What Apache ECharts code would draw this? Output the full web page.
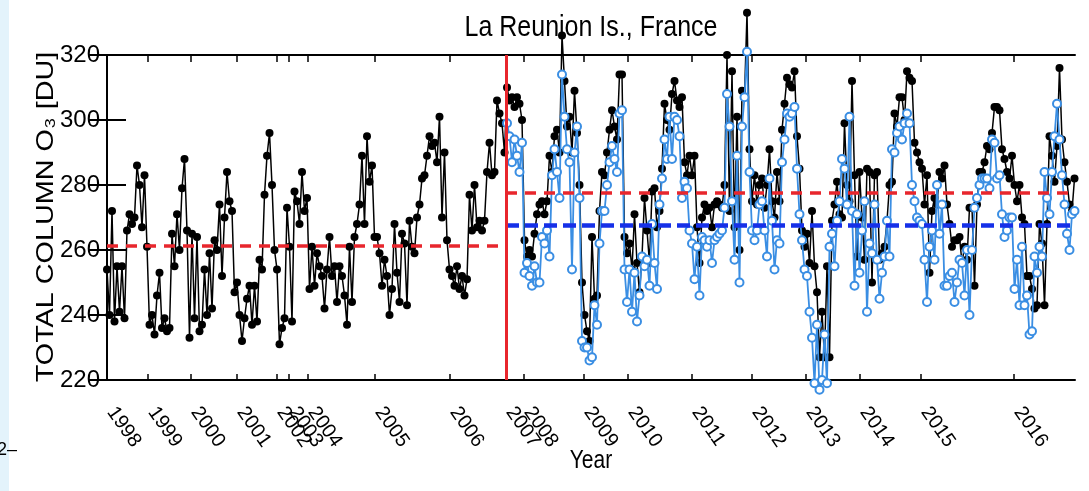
<!DOCTYPE html>
<html>
<head>
<meta charset="utf-8">
<title>La Reunion Is., France</title>
<script src="https://cdn.jsdelivr.net/npm/echarts@6/dist/echarts.min.js"></script>
<style>
  html, body { margin: 0; padding: 0; background: #fff; }
  #chart { width: 1089px; height: 491px; }
</style>
</head>
<body>
<div id="chart"></div>
<script>
// sample index along the x axis, year marks sit at irregular sample positions
const yearTicks = [0, 16.4, 33.6, 52, 68, 72.8, 80.4, 107.2, 137.2, 159.6, 166.8,
  190.8, 208.4, 234, 258, 279.6, 301.2, 325.6, 362.8];
const yearLabels = ['1998', '1999', '2000', '2001', '2002', '2003', '2004', '2005', '2006',
  '2007', '2008', '2009', '2010', '2011', '2012', '2013', '2014', '2015', '2016'];

// total column O3 [DU], black = full record
const blackO3 = [
  254, 240, 272, 238, 255, 241, 255, 239, 266, 271,
  268, 270, 286, 280, 267, 283, 261, 237, 240, 234,
  246, 253, 236, 239, 235, 236, 265, 255, 271, 260,
  279, 288, 266, 233, 265, 239, 264, 235, 237, 254,
  240, 259, 242, 263, 260, 274, 252, 270, 284, 275,
  272, 247, 250, 240, 232, 239, 245, 249, 237, 249,
  238, 257, 254, 277, 289, 296, 280, 260, 254, 231,
  236, 239, 273, 261, 238, 278, 275, 268, 284, 272,
  276, 248, 261, 249, 259, 255, 252, 242, 254, 264,
  252, 255, 244, 255, 252, 246, 237, 261, 244, 264,
  268, 274, 289, 268, 295, 281, 286, 264, 264, 259,
  249, 257, 252, 240, 248, 268, 253, 244, 265, 262,
  243, 269, 261, 259, 270, 274, 282, 283, 289, 295,
  292, 293, 287, 301, 270, 290, 263, 254, 252, 249,
  255, 248, 252, 246, 251, 277, 266, 280, 267, 269,
  266, 269, 284, 293, 283, 284, 306, 302, 299, 290,
  310, 306, 307, 304, 307, 305, 300, 263, 258, 260,
  258, 265, 271, 274, 275, 271, 275, 289, 284, 295,
  297, 290, 326, 312, 298, 301, 290, 309, 296, 280,
  250, 240, 235, 232, 264, 245, 246, 272, 284, 283,
  290, 297, 303, 298, 294, 314, 314, 264, 259, 262,
  254, 271, 256, 247, 258, 276, 266, 256, 278, 279,
  267, 272, 285, 305, 300, 297, 308, 312, 306, 304,
  307, 287, 283, 289, 283, 289, 267, 256, 270, 274,
  272, 273, 267, 274, 275, 274, 273, 280, 320, 272,
  315, 267, 301, 260, 309, 307, 333, 291, 275, 283,
  274, 280, 282, 273, 280, 291, 275, 270, 284, 275,
  297, 305, 313, 311, 310, 315, 295, 285, 266, 261,
  265, 256, 272, 255, 247, 227, 241, 227, 255, 227,
  269, 274, 281, 271, 270, 299, 280, 275, 312, 283,
  258, 284, 270, 257, 285, 284, 250, 283, 284, 257,
  259, 261, 269, 280, 281, 302, 298, 307, 307, 300,
  315, 313, 312, 293, 290, 287, 285, 274, 283, 253,
  272, 276, 274, 284, 282, 286, 274, 268, 261, 263,
  263, 264, 256, 261, 257, 273, 273, 249, 274, 284,
  284, 287, 292, 291, 296, 304, 304, 303, 291, 288,
  284, 282, 289, 280, 275, 280, 270, 268, 252, 252,
  248, 242, 243, 268, 262, 243, 268, 295, 289, 281,
  292, 316, 294, 287, 281, 274, 272, 282
];

// blue = second record, starts at sample blueStart
const blueStart = 160;
const blueO3 = [
  299, 295, 287, 294, 289, 284, 293, 253, 256, 252,
  249, 255, 250, 250, 264, 262, 266, 258, 283, 291,
  284, 276, 314, 301, 291, 287, 254, 290, 298, 276,
  232, 230, 230, 226, 227, 243, 237, 262, 272, 272,
  280, 287, 292, 288, 284, 302, 303, 254, 244, 254,
  241, 253, 238, 246, 258, 255, 257, 249, 268, 256,
  248, 274, 282, 294, 288, 301, 288, 301, 300, 295,
  276, 281, 279, 266, 262, 251, 261, 246, 264, 263,
  261, 263, 256, 263, 264, 265, 266, 273, 308, 298,
  275, 257, 289, 250, 298, 307, 321, 284, 266, 263,
  266, 274, 275, 266, 258, 282, 269, 254, 263, 262,
  287, 294, 302, 301, 302, 304, 285, 271, 263, 254,
  252, 241, 233, 219, 237, 217, 220, 234, 219, 261,
  265, 255, 269, 275, 288, 285, 274, 301, 272, 249,
  271, 253, 266, 275, 241, 262, 259, 274, 257, 245,
  253, 258, 269, 258, 291, 290, 296, 298, 294, 299,
  302, 299, 280, 275, 270, 269, 268, 257, 244, 261,
  266, 257, 280, 265, 274, 249, 249, 252, 253, 244,
  250, 257, 256, 246, 260, 240, 260, 273, 276, 280,
  282, 282, 282, 279, 294, 293, 282, 283, 271, 264,
  266, 270, 270, 248, 257, 243, 261, 243, 246, 234,
  235, 258, 253, 261, 258, 284, 276, 271, 284, 295,
  305, 294, 283, 274, 265, 260, 271, 272
];

const breakAt = 159.6;       // instrument change
const meanBefore = 261.2;
const meanAfterBlack = 277.6;
const meanAfterBlue = 267.7;
const xMax = 387.2;

const RED = '#e8262d';
const BLUE = '#3a8ee3';
const labelFont = '"Liberation Sans Narrow", "Liberation Sans", Arial, sans-serif';

const chart = echarts.init(document.getElementById('chart'));

const yearOf = v => {
  const k = yearTicks.findIndex(t => Math.abs(t - v) < 1e-6);
  return k < 0 ? '' : yearLabels[k];
};

chart.setOption({
  animation: false,
  backgroundColor: '#fff',
  grid: { left: 107, top: 55, width: 968, height: 325, outerBoundsMode: 'none' },
  xAxis: [
    {
      type: 'value', position: 'bottom', min: 0, max: xMax,
      axisLine: { lineStyle: { color: '#000', width: 2 } },
      axisTick: { inside: true, length: 6, customValues: yearTicks, lineStyle: { color: '#000', width: 1.5 } },
      axisLabel: {
        customValues: yearTicks, formatter: yearOf, rotate: -55, margin: 23,
        padding: [0, 0, 0, 7],
        fontSize: 20, color: '#000', fontFamily: labelFont, hideOverlap: false
      },
      splitLine: { show: false }
    },
    {
      type: 'value', position: 'top', min: 0, max: xMax,
      axisLine: { lineStyle: { color: '#000', width: 2 } },
      axisTick: { inside: true, length: 7, customValues: yearTicks, lineStyle: { color: '#000', width: 1.5 } },
      axisLabel: { show: false },
      splitLine: { show: false }
    }
  ],
  yAxis: [
    {
      type: 'value', position: 'left', min: 220, max: 320, interval: 20,
      axisLine: { show: true, lineStyle: { color: '#000', width: 2 } },
      axisTick: { show: true, inside: true, length: 19, lineStyle: { color: '#000', width: 2 } },
      axisLabel: { margin: 7, fontSize: 24, color: '#000', fontFamily: labelFont },
      splitLine: { show: false }
    },
    {
      type: 'value', position: 'right', min: 220, max: 320, interval: 20,
      axisLine: { show: true, lineStyle: { color: '#000', width: 2 } },
      axisTick: { show: true, inside: true, length: 18, lineStyle: { color: '#000', width: 2 } },
      axisLabel: { show: false },
      splitLine: { show: false }
    }
  ],
  graphic: [
    { type: 'rect', silent: true, z: -10, shape: { x: 0, y: 0, width: 9, height: 491 }, style: { fill: '#e3f3fb' } },
    {
      type: 'text', x: 591, y: 28, scaleY: 1.2, silent: true,
      style: { text: 'La Reunion Is., France', fontSize: 25, fontFamily: '"Liberation Sans", Arial', fill: '#000', align: 'center', verticalAlign: 'middle' }
    },
    {
      type: 'text', x: 46, y: 217, rotation: Math.PI / 2, scaleX: 1.2, silent: true,
      style: { text: 'TOTAL COLUMN O\u2083 [DU]', fontSize: 24, fontFamily: '"Liberation Sans", Arial', fill: '#000', align: 'center', verticalAlign: 'middle' }
    },
    {
      type: 'text', x: 591, y: 461, scaleY: 1.22, silent: true,
      style: { text: 'Year', fontSize: 21, fontFamily: '"Liberation Sans", Arial', fill: '#000', align: 'center', verticalAlign: 'middle' }
    },
    {
      type: 'text', x: -3, y: 450, silent: true,
      style: { text: '2\u2013', fontSize: 18, fontFamily: '"Liberation Sans", Arial', fill: '#000', align: 'left', verticalAlign: 'middle' }
    }
  ],
  series: [
    {
      name: 'all', type: 'line', xAxisIndex: 0, yAxisIndex: 0, z: 2, silent: true, clip: false,
      data: blackO3.map((v, i) => [i, v]),
      symbol: 'circle', symbolSize: 8,
      itemStyle: { color: '#000' },
      lineStyle: { color: '#000', width: 1.5 }
    },
    {
      name: 'new', type: 'line', xAxisIndex: 0, yAxisIndex: 0, z: 3, silent: true, clip: false,
      data: blueO3.map((v, i) => [i + blueStart, v]),
      symbol: 'emptyCircle', symbolSize: 8,
      itemStyle: { color: BLUE, borderWidth: 2 },
      lineStyle: { color: BLUE, width: 1.8 },
      markLine: {
        silent: true, symbol: 'none', label: { show: false }, animation: false,
        data: [
          [{ coord: [0, meanBefore], lineStyle: { color: RED, type: [11, 8], width: 3.5 } }, { coord: [breakAt, meanBefore] }],
          [{ coord: [breakAt, meanAfterBlack], lineStyle: { color: RED, type: [11, 8], width: 3.5 } }, { coord: [xMax, meanAfterBlack] }],
          [{ coord: [breakAt, meanAfterBlue], lineStyle: { color: '#1630e8', type: [13, 6], width: 4.5 } }, { coord: [xMax, meanAfterBlue] }],
          { xAxis: breakAt, lineStyle: { color: RED, type: 'solid', width: 3 } }
        ]
      }
    }
  ]
});
</script>
</body>
</html>
